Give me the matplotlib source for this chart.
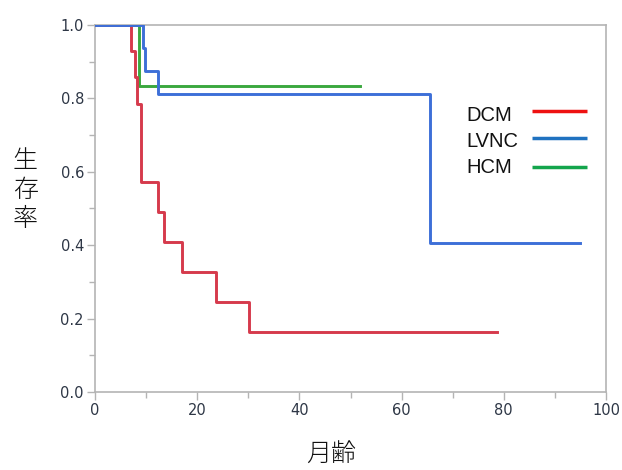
import matplotlib
matplotlib.use("Agg")
import matplotlib.pyplot as plt
from matplotlib.ticker import MultipleLocator

# Kaplan-Meier step data (time in months, survival after step)
dcm_t = [0, 7.0, 7.8, 8.3, 9.0, 12.3, 13.5, 17.0, 23.6, 30.2, 78.7]
dcm_s = [1.0, 0.929, 0.857, 0.786, 0.571, 0.490, 0.408, 0.327, 0.245, 0.163, 0.163]

lvnc_t = [0, 9.3, 9.8, 12.4, 65.6, 94.9]
lvnc_s = [1.0, 0.9375, 0.875, 0.8125, 0.406, 0.406]

hcm_t = [0, 8.7, 51.9]
hcm_s = [1.0, 0.833, 0.833]

labels = ["DCM", "LVNC", "HCM"]
line_colors = ["#d63a4c", "#3d6fd8", "#3aa83e"]
legend_colors = ["#ee1111", "#1f72c0", "#13a54c"]

x_ticks = [0, 20, 40, 60, 80, 100]
y_ticks = [0.0, 0.2, 0.4, 0.6, 0.8, 1.0]

plt.rcParams['font.family'] = ['DejaVu Sans']
fig = plt.figure(figsize=(6.22, 4.70), dpi=100)
ax = fig.add_axes([95/622, 1-392/470, 511/622, 367/470])

lw = 2.1
ax.step(hcm_t, hcm_s, where='post', color=line_colors[2], lw=lw, zorder=3)
ax.step(dcm_t, dcm_s, where='post', color=line_colors[0], lw=lw, zorder=4)
ax.step(lvnc_t, lvnc_s, where='post', color=line_colors[1], lw=lw, zorder=5)

ax.set_xlim(0, 100)
ax.set_ylim(0, 1.0)
ax.set_xticks(x_ticks)
ax.set_yticks(y_ticks)
ax.set_yticklabels([f"{v:.1f}" for v in y_ticks])
ax.xaxis.set_minor_locator(MultipleLocator(10))
ax.yaxis.set_minor_locator(MultipleLocator(0.1))

spine_c = "#b4b4b4"
for s in ax.spines.values():
    s.set_color(spine_c)
    s.set_linewidth(1.2)
ax.tick_params(which='major', direction='out', length=6, width=1.0, color=spine_c,
               labelsize=10.5, labelcolor="#2e3746", pad=2)
ax.tick_params(which='minor', direction='out', length=4, width=1.0, color=spine_c)

ax.set_xlabel("月齢", family=['Noto Sans CJK JP'], fontsize=18, color="#111111",
              weight='light')
ax.xaxis.label.set(ha='center', va='center')
ax.xaxis.set_label_coords((331-95)/511, (392-455)/367)

ax.set_ylabel("生\n存\n率", family=['Noto Sans CJK JP'], fontsize=18, rotation=0,
              color="#111111", linespacing=1.12, weight='light')
ax.yaxis.label.set(ha='center', va='center')
ax.yaxis.set_label_coords((25.5-95)/511, (392-190)/367)

# legend: label left, line sample right (drawn in axes coordinates)
leg_text_x = (466 - 95) / 511
leg_line_x = ((532 - 95) / 511, (587 - 95) / 511)
leg_baselines = [(392 - 120.7) / 367, (392 - 146.7) / 367, (392 - 173.3) / 367]
leg_line_y = [(392 - 111) / 367, (392 - 137.5) / 367, (392 - 166.5) / 367]
for lab, c, by, ly in zip(labels, legend_colors, leg_baselines, leg_line_y):
    ax.text(leg_text_x, by, lab, transform=ax.transAxes, ha='left', va='baseline',
            family='Liberation Sans', fontsize=14.5, color='#111111')
    ax.plot(leg_line_x, [ly, ly], transform=ax.transAxes, color=c, lw=2.5,
            solid_capstyle='butt', clip_on=False)

fig.savefig("out.png", dpi=100, facecolor="white")
